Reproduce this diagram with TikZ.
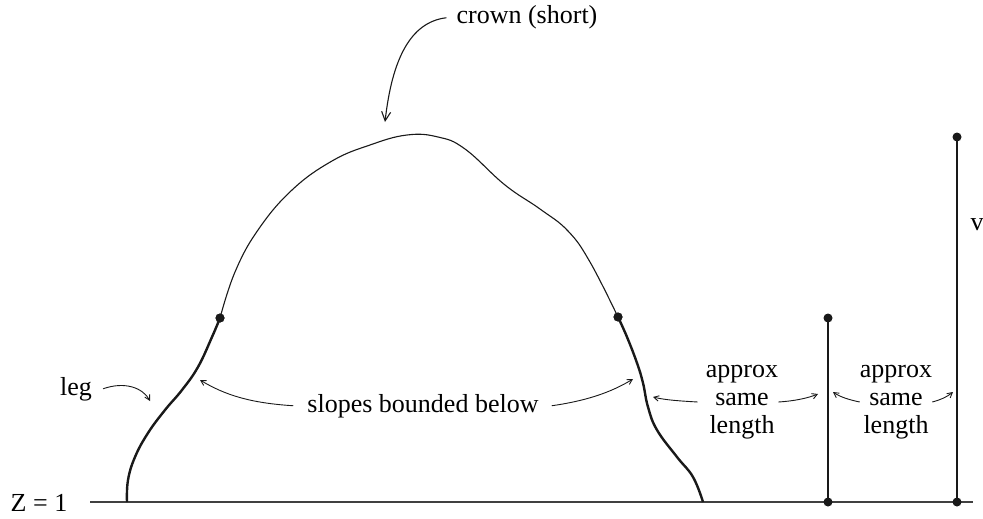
\documentclass[tikz,border=0pt]{standalone}
\usepackage{fontspec}
\setmainfont{Liberation Serif}
\usetikzlibrary{arrows.meta}

\begin{document}
\begin{tikzpicture}[x=1pt,y=-1pt,
  ink/.style={draw=black!90},
  thinline/.style={ink,line width=1.1pt},
  thickline/.style={ink,line width=2.4pt},
  groundline/.style={draw=black!75,line width=1.6pt},
  pointer/.style={ink,line width=0.9pt,-{Straight Barb[length=5pt,width=5.5pt]}},
  bigpointer/.style={ink,line width=1.1pt,-{Straight Barb[length=9pt,width=9pt]}},
  dot/.style={circle,fill=black!90,inner sep=0pt,minimum size=9pt},
  lbl/.style={inner sep=0pt,font=\fontsize{26}{28}\selectfont,text=black},
  stack/.style={lbl,align=center}]

\useasboundingbox (0,0) rectangle (983,519);

% ground line
\node[lbl,anchor=base] (zlab) at (39,511) {Z = 1};
\coordinate (g0) at (90,502);
\coordinate (g1) at (973,502);
\draw[groundline] (g0) -- (g1);

% end points of the bounded-slope part of the curve
\node[dot] (dL) at (220,318) {};
\node[dot] (dR) at (618,317) {};

% left leg
\draw[thickline] plot[smooth,tension=0.7] coordinates {(127,502) (128,480) (135,457) (148,433) (165,410) (182,390) (198,367) (212,337) (220,318)};
% crown
\draw[thinline] plot[smooth,tension=0.7] coordinates {(220,318) (235,272) (258,230) (292,190) (332,161) (370,145) (407,135) (438,137) (465,149) (505,185) (540,209) (568,231) (590,262) (618,317)};
% right leg
\draw[thickline] plot[smooth,tension=0.7] coordinates {(618,317) (627,337) (637,363) (643,383) (648,407) (657,430) (677,457) (693,477) (703,502)};
\node[dot] at (dL) {};
\node[dot] at (dR) {};

% reference segments
\node[dot] (s1t) at (828,318) {};
\node[dot] (s1b) at (828,502) {};
\node[dot] (s2t) at (957,137) {};
\node[dot] (s2b) at (957,502) {};
\draw[thickline] (s1t.center) -- (s1b.center);
\draw[thickline] (s2t.center) -- (s2b.center);
\node[lbl,anchor=base] (vlab) at (977,230) {v};

% labels
\node[lbl,anchor=base] (crown) at (527,24) {crown (short)};
\node[lbl,anchor=base] (leg) at (76,395) {leg};
\node[lbl,anchor=base] (slopes) at (423,412) {slopes bounded below};
\node[stack] (sameA) at (742,402) {approx\\same\\length};
\node[stack] (sameB) at (896,402) {approx\\same\\length};

% targets of the pointers
\coordinate (crownTip) at (385,122);
\coordinate (legTip) at (150,401);
\coordinate (slopeTipL) at (200,380);
\coordinate (slopeTipR) at (633,379);
\coordinate (lenTipA) at (653,397);
\coordinate (lenTipB) at (818,394);
\coordinate (lenTipC) at (833,392);
\coordinate (lenTipD) at (953,392);

% pointers
\draw[bigpointer] ([xshift=-10pt]crown.west) .. controls (410,22) and (392,60) .. (crownTip);
\draw[pointer] ([xshift=11pt]leg.east) .. controls (125,381) and (143,388) .. (legTip);
\draw[pointer] ([xshift=-14pt]slopes.west) .. controls (250,403) and (225,395) .. (slopeTipL);
\draw[pointer] ([xshift=13pt]slopes.east) .. controls (585,401) and (610,393) .. (slopeTipR);
\draw[pointer] ([xshift=-8pt]sameA.west) .. controls (680,401) and (665,400) .. (lenTipA);
\draw[pointer] (sameA.east) .. controls (795,401) and (808,398) .. (lenTipB);
\draw[pointer] (sameB.west) .. controls (850,400) and (840,397) .. (lenTipC);
\draw[pointer] (sameB.east) .. controls (940,400) and (947,397) .. (lenTipD);

\end{tikzpicture}
\end{document}
